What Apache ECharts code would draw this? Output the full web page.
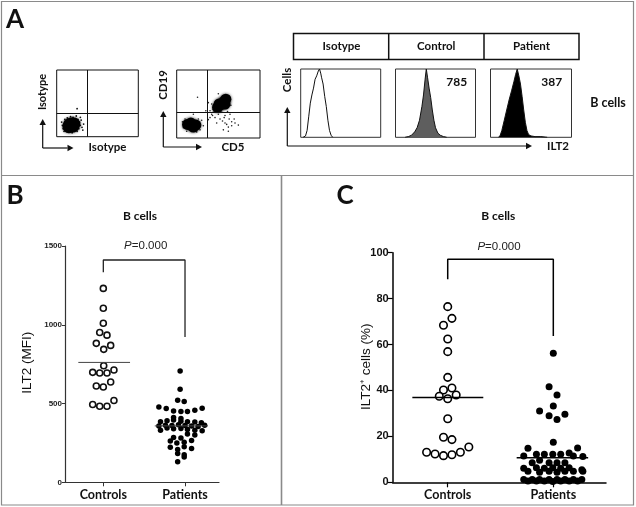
<!DOCTYPE html>
<html>
<head>
<meta charset="utf-8">
<script src="https://cdn.jsdelivr.net/npm/echarts@6/dist/echarts.min.js"></script>
<style>html,body{margin:0;padding:0;background:#fff}#c{width:636px;height:507px}</style>
</head>
<body>
<div id="c"></div>
<script>
// ---------- DATA ----------
// Panel A: flow cytometry dot plots (percent of plot range)
const dot1Gate = [38, 35];
const dot1Core = [[16, 18], [20, 16], [18, 19], [15, 15], [21, 19]];
const dot1Sparse = [[8,12],[9,20],[10,26],[12,9],[13,28],[15,7],[17,30],[20,29],[23,27],[25,8],[27,12],[28,22],[29,17],[30,25],[26,26],[11,16],[14,10],[22,8],[7,17],[31,14],[24,31],[19,6],[10,23],[27,20],[33,19],[25,42],[6,22],[32,10],[9,8],[29,29]];
const dot2Gate = [37, 37.5];
const dot2CoreLow = [[13, 20], [18, 18], [23, 19], [17, 22], [20, 16]];
const dot2CoreHigh = [[49, 45], [53, 49], [57, 54], [59, 57], [55, 51], [51, 50], [58, 50]];
const dot2Sparse = [[40,30],[42,35],[44,38],[38,27],[46,30],[50,35],[55,25],[60,20],[63,28],[66,18],[70,22],[58,33],[52,28],[48,22],[64,35],[45,45],[42,50],[65,48],[50,65],[8,15],[7,24],[10,28],[28,12],[30,26],[26,28],[32,18],[20,10],[12,10],[24,9],[35,40],[38,52],[56,12],[62,10],[20,35],[25,60],[44,42],[47,38],[52,40],[58,22],[62,16],[69,28],[74,19],[57,30],[66,24],[40,40],[43,33],[46,41],[54,38],[61,39]];
// Histograms (ILT2 channel %, cell count %)
const histIsotype = [[3,0],[6,2],[8,10],[10,30],[12,50],[14,62],[16,72],[18,85],[20,90],[22,97],[23.5,100],[25,94],[26,88],[28,78],[30,60],[32,45],[34,25],[36,10],[38,3],[40,0]];
const histControl = [[12,0],[16,1],[20,3],[24,8],[27,14],[30,25],[33,45],[35,62],[37,85],[38.5,100],[40,88],[42,72],[44,58],[46,40],[48,25],[50,14],[53,6],[56,3],[60,1],[64,0]];
const histPatient = [[10,0],[12,3],[14,10],[17,25],[20,40],[23,55],[26,68],[29,82],[31,92],[33,100],[35,90],[37,78],[39,60],[41,40],[43,22],[45,10],[47,4],[50,2],[55,1],[62,1],[70,0]];
const histHeaders = ['Isotype', 'Control', 'Patient'];
const histMFI = ['', '785', '387'];

// Panel B: ILT2 MFI (x = group index with jitter)
const categories = ['Controls', 'Patients'];
const bControls = [[1.00,1231],[1.00,1105],[1.00,1010],[0.956,951],[1.045,934],[0.914,882],[1.005,844],[1.09,869],[1.005,740],[0.87,698],[0.956,694],[1.045,694],[1.13,713],[0.914,611],[1.00,605],[1.09,637],[0.87,494],[0.956,483],[1.045,483],[1.13,519]];
const bPatients = [[1.94,706],[1.94,590],[1.91,521],[1.99,513],[1.68,478],[1.77,468],[1.86,453],[1.95,449],[2.03,449],[2.12,458],[2.21,470],[1.86,411],[1.95,405],
  [1.70,385],[1.78,390],[1.86,395],[1.95,388],[2.03,385],[2.12,382],[2.20,378],
  [1.68,358],[1.76,362],[1.84,360],[1.92,365],[2.00,360],[2.08,357],[2.16,355],[2.24,362],
  [1.70,330],[1.78,345],[1.86,340],[1.95,342],[2.03,335],[2.12,330],[2.21,328],
  [1.86,285],[1.95,282],[2.03,306],[2.12,300],[1.82,262],[1.90,250],[1.99,255],[2.08,265],[1.82,222],[1.91,209],[1.99,225],[2.08,215],[1.91,183],[1.99,175],[1.99,160],[1.91,130]];
const bMedians = [761, 358];
const bTicks = [0, 500, 1000, 1500];

// Panel C: ILT2+ cells (%)
const cControls = [[1.00,76.5],[1.04,71.4],[0.96,68.4],[1.00,62.4],[1.00,56.9],[1.00,45.7],[0.96,40.2],[1.04,41.1],[0.92,37.5],[1.08,38.0],[1.00,36.4],[1.00,27.7],[0.96,19.6],[1.04,18.6],[0.80,13.1],[0.88,12.3],[0.96,11.6],[1.04,12.0],[1.12,13.1],[1.20,15.4]];
const cPatients = [[2.00,56.2],[1.96,41.6],[2.035,38.0],[1.87,31.0],[2.00,33.2],[1.96,29.0],[2.035,27.4],[2.11,29.6],[2.00,17.4],
  [1.76,14.8],[2.23,14.9],
  [1.72,11.5],[1.84,12.2],[1.915,12.2],[1.995,12.2],[2.07,12.2],[2.15,12.8],[2.19,11.5],[2.28,11.2],
  [1.80,8.5],[1.87,9.6],[1.96,8.5],[2.035,8.5],[2.11,8.5],
  [1.72,6.1],[1.84,6.3],[1.915,6.1],[1.995,6.3],[2.07,6.1],[2.15,6.3],[2.27,5.5],
  [1.76,4.8],[1.87,4.4],[1.96,4.8],[2.035,4.4],[2.11,4.8],[2.19,4.8],[2.28,4.8],
  [1.72,1.2],[1.76,0.6],[1.80,1.2],[1.84,0.6],[1.87,1.2],[1.915,0.6],[1.96,1.2],[1.995,0.3],[2.035,1.2],[2.07,0.6],[2.11,1.2],[2.15,0.6],[2.19,1.2],[2.23,0.6],[2.27,1.2]];
const cMedians = [36.9, 10.7];
const pText = '0.000';

// ---------- CHART ----------
const chart = echarts.init(document.getElementById('c'), null, {renderer: 'canvas'});
const CAL = 'Lato, "Open Sans", sans-serif';
const ARI = '"Liberation Sans", Arial, sans-serif';

const grids = [
  {left: 56.7, top: 70, width: 81.6, height: 66.7},
  {left: 176.7, top: 70, width: 83.3, height: 68},
  {left: 300.7, top: 69, width: 80, height: 68.3},
  {left: 395.5, top: 69, width: 80, height: 68.3},
  {left: 490.5, top: 69, width: 81, height: 68.3},
  {left: 65, top: 246, width: 154, height: 236.3},
  {left: 392.7, top: 252.7, width: 213.3, height: 229.6}
].map((g, i) => Object.assign({show: i < 5, borderColor: i < 2 ? '#111' : '#333', borderWidth: 1, backgroundColor: 'transparent'}, g));

const xAxes = [], yAxes = [];
for (let i = 0; i < 5; i++) {
  xAxes.push({gridIndex: i, type: 'value', min: 0, max: 100, show: false});
  yAxes.push({gridIndex: i, type: 'value', min: 0, max: 100, show: false});
}
const catFmt = v => categories[Math.round(v) - 1];
const numFmt = v => String(v);
xAxes.push({gridIndex: 5, type: 'value', min: 0.531, max: 2.416,
  axisLine: {show: true, lineStyle: {color: '#333', width: 1.2}},
  axisTick: {show: true, customValues: [1, 2], length: 4, lineStyle: {color: '#333'}},
  axisLabel: {show: true, customValues: [1, 2], formatter: catFmt, margin: 6, fontFamily: CAL, fontWeight: 'bold', fontSize: 12.5, color: '#111'},
  splitLine: {show: false}});
yAxes.push({gridIndex: 5, type: 'value', min: 0, max: 1500, interval: 500,
  axisLine: {show: true, lineStyle: {color: '#333', width: 1.2}},
  axisTick: {show: true, length: 3, lineStyle: {color: '#333'}},
  axisLabel: {margin: 3, formatter: numFmt, fontFamily: ARI, fontWeight: 'bold', fontSize: 8, color: '#222'},
  splitLine: {show: false}});
xAxes.push({gridIndex: 6, type: 'value', min: 0.479, max: 2.499,
  axisLine: {show: true, lineStyle: {color: '#000', width: 1.5}},
  axisTick: {show: true, customValues: [1, 2], length: 5, lineStyle: {color: '#000', width: 1.2}},
  axisLabel: {show: true, customValues: [1, 2], formatter: catFmt, margin: 6, fontFamily: CAL, fontWeight: 'bold', fontSize: 12.5, color: '#111'},
  splitLine: {show: false}});
yAxes.push({gridIndex: 6, type: 'value', min: 0, max: 100, interval: 20,
  axisLine: {show: true, lineStyle: {color: '#000', width: 1.5}},
  axisTick: {show: true, length: 5, lineStyle: {color: '#000', width: 1.2}},
  axisLabel: {margin: 4, formatter: numFmt, fontFamily: ARI, fontWeight: 'bold', fontSize: 11, color: '#111'},
  splitLine: {show: false}});

function gateLines(g) {
  return {silent: true, symbol: 'none', label: {show: false},
    lineStyle: {color: '#111', width: 1, type: 'solid'},
    data: [{xAxis: g[0]}, {yAxis: g[1]}]};
}
function sc(idx, data, size, style, extra) {
  return Object.assign({type: 'scatter', xAxisIndex: idx, yAxisIndex: idx, data: data, symbol: 'circle',
    symbolSize: size, silent: true, animation: false, itemStyle: Object.assign({opacity: 1}, style)}, extra || {});
}
function ln(idx, data, color, width) {
  return {type: 'line', xAxisIndex: idx, yAxisIndex: idx, data: data, showSymbol: false, silent: true,
    animation: false, lineStyle: {color: color, width: width}, itemStyle: {color: color}};
}
function hist(idx, data, fill) {
  const s = ln(idx, data, '#111', 1);
  if (fill) s.areaStyle = {color: fill, opacity: 1};
  return s;
}
const coreStyle = {color: '#000', shadowBlur: 3, shadowColor: 'rgba(0,0,0,0.7)'};

const series = [
  sc(0, dot1Sparse, 1.8, {color: '#111'}, {markLine: gateLines(dot1Gate)}),
  sc(0, dot1Core, 13, coreStyle),
  sc(1, dot2Sparse, 1.6, {color: '#222'}, {markLine: gateLines(dot2Gate)}),
  sc(1, dot2CoreLow, 11, coreStyle),
  sc(1, dot2CoreHigh, 11, coreStyle),
  hist(2, histIsotype, null),
  hist(3, histControl, '#5e5e5e'),
  hist(4, histPatient, '#000'),
  // Panel B
  sc(5, bControls, 6, {color: '#fff', borderColor: '#111', borderWidth: 1.6}),
  sc(5, bPatients, 5.5, {color: '#000'}),
  ln(5, [[1 - 0.306, bMedians[0]], [1 + 0.327, bMedians[0]]], '#444', 1),
  ln(5, [[2 - 0.37, bMedians[1]], [2 + 0.28, bMedians[1]]], '#444', 1),
  ln(5, [[1, 1333], [1, 1411], [2, 1411], [2, 922]], '#222', 1.3),
  // Panel C
  sc(6, cControls, 7.5, {color: '#fff', borderColor: '#000', borderWidth: 1.6}),
  sc(6, cPatients, 7, {color: '#000'}),
  ln(6, [[1 - 0.335, cMedians[0]], [1 + 0.337, cMedians[0]]], '#000', 1.5),
  ln(6, [[2 - 0.347, cMedians[1]], [2 + 0.33, cMedians[1]]], '#000', 1.5),
  ln(6, [[1, 88.4], [1, 97.1], [2, 97.1], [2, 63.7]], '#000', 1.5)
];

// ---------- decorations ----------
function text(x, y, t, font, opts) {
  opts = opts || {};
  return {type: 'text', x: x, y: y, rotation: opts.rot || 0, silent: true,
    style: {text: t, x: 0, y: 0, font: font, fill: opts.color || '#111',
      align: opts.align || 'center', verticalAlign: 'middle', textAlign: opts.align || 'center', textVerticalAlign: 'middle', rich: opts.rich}};
}
function line(x1, y1, x2, y2, color, w) {
  return {type: 'line', silent: true, shape: {x1: x1, y1: y1, x2: x2, y2: y2}, style: {stroke: color, lineWidth: w}};
}
function arrow(x1, y1, x2, y2) {
  const a = Math.atan2(y2 - y1, x2 - x1), L = 6, H = 3.2;
  const bx = x2 - L * Math.cos(a), by = y2 - L * Math.sin(a);
  return [
    line(x1, y1, bx, by, '#111', 1.2),
    {type: 'polygon', silent: true, shape: {points: [[x2, y2], [bx - H * Math.sin(a), by + H * Math.cos(a)], [bx + H * Math.sin(a), by - H * Math.cos(a)]]}, style: {fill: '#111'}}
  ];
}

const g = [];
// panel frames
g.push({type: 'rect', silent: true, shape: {x: 1.5, y: 1.5, width: 632, height: 503.5}, style: {fill: 'none', stroke: '#8a8a8a', lineWidth: 1.2}});
g.push(line(1.5, 175.5, 633.5, 175.5, '#8a8a8a', 1.2));
g.push(line(281.5, 175.5, 281.5, 505, '#8a8a8a', 1.6));
// panel letters
g.push(text(15, 20, 'A', 'bold 26px ' + CAL));
g.push(text(15, 196, 'B', 'bold 26px ' + CAL));
g.push(text(345, 196, 'C', 'bold 26px ' + CAL));
// dot plot axes
g.push(...arrow(42.7, 148, 42.7, 119));
g.push(...arrow(42.7, 148, 73.5, 148));
g.push(text(42.7, 92, 'Isotype', 'bold 11px ' + CAL, {rot: Math.PI / 2}));
g.push(text(107.5, 147, 'Isotype', 'bold 11.5px ' + CAL));
g.push(...arrow(163.3, 147, 163.3, 111));
g.push(...arrow(163.3, 147, 202, 147));
g.push(text(163.3, 85, 'CD19', 'bold 11.5px ' + CAL, {rot: Math.PI / 2}));
g.push(text(233, 147, 'CD5', 'bold 11.5px ' + CAL));
// histogram header boxes
g.push({type: 'rect', silent: true, shape: {x: 293.5, y: 33.5, width: 285.5, height: 26}, style: {fill: 'none', stroke: '#111', lineWidth: 1.5}});
g.push(line(388.7, 33.5, 388.7, 59.5, '#111', 1.5));
g.push(line(484, 33.5, 484, 59.5, '#111', 1.5));
[341.5, 436.3, 531.5].forEach((cx, i) => g.push(text(cx, 46.7, histHeaders[i], 'bold 11.5px ' + CAL)));
[null, 456.7, 551.7].forEach((cx, i) => { if (cx) g.push(text(cx, 82.3, histMFI[i], 'bold 12px ' + CAL)); });
g.push(...arrow(287.3, 146, 287.3, 107));
g.push(...arrow(287.3, 146, 532, 146));
g.push(text(287.3, 80, 'Cells', 'bold 11.5px ' + CAL, {rot: Math.PI / 2}));
g.push(text(558, 146.7, 'ILT2', 'bold 11.5px ' + CAL));
g.push(text(608, 103.3, 'B cells', 'bold 12.5px ' + CAL));
// panel B/C titles
g.push(text(140, 216, 'B cells', 'bold 12px ' + CAL));
g.push(text(498.3, 216, 'B cells', 'bold 12px ' + CAL));
const pRich = {i: {fontFamily: ARI, fontStyle: 'italic', fontSize: 11.5, fill: '#222', color: '#222'}, n: {fontFamily: ARI, fontSize: 11.5, fill: '#222', color: '#222'}};
g.push(text(145.7, 246, '{i|P}{n|=' + pText + '}', '11.5px ' + ARI, {rich: pRich}));
g.push(text(499, 246.7, '{i|P}{n|=' + pText + '}', '11.5px ' + ARI, {rich: pRich}));
// y axis names
g.push(text(27.7, 362.7, 'ILT2 (MFI)', '13.5px ' + ARI, {rot: Math.PI / 2}));
g.push(text(366.5, 366.7, 'ILT2\u207A cells (%)', '13.5px ' + ARI, {rot: Math.PI / 2}));

chart.setOption({
  animation: false,
  grid: grids,
  xAxis: xAxes,
  yAxis: yAxes,
  series: series,
  graphic: {elements: g}
});
</script>
</body>
</html>
